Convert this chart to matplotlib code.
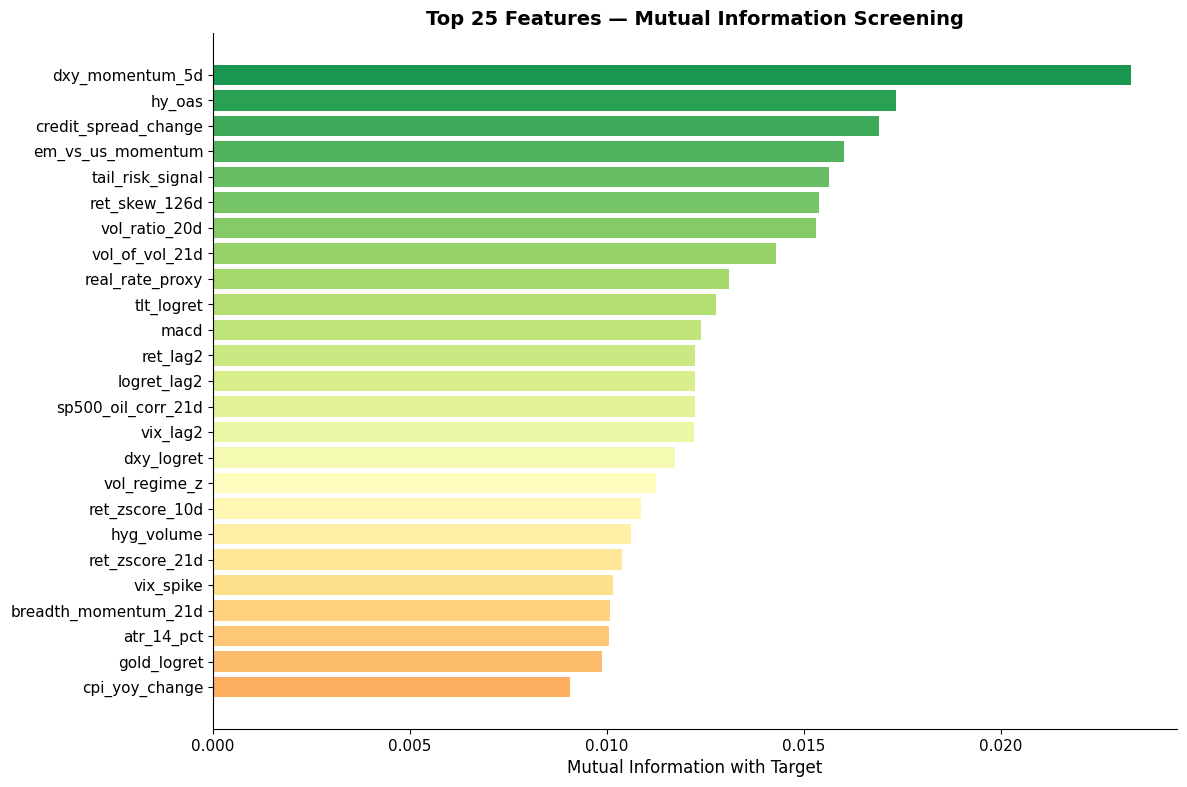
import matplotlib
matplotlib.use("Agg")
import matplotlib.pyplot as plt
import numpy as np

features = [
    "dxy_momentum_5d", "hy_oas", "credit_spread_change", "em_vs_us_momentum",
    "tail_risk_signal", "ret_skew_126d", "vol_ratio_20d", "vol_of_vol_21d",
    "real_rate_proxy", "tlt_logret", "macd", "ret_lag2", "logret_lag2",
    "sp500_oil_corr_21d", "vix_lag2", "dxy_logret", "vol_regime_z",
    "ret_zscore_10d", "hyg_volume", "ret_zscore_21d", "vix_spike",
    "breadth_momentum_21d", "atr_14_pct", "gold_logret", "cpi_yoy_change",
]
mi_values = [
    0.02330, 0.01734, 0.01690, 0.01602, 0.01563, 0.01538, 0.01530, 0.01429,
    0.01310, 0.01277, 0.01239, 0.01223, 0.01223, 0.01224, 0.01220, 0.01173,
    0.01124, 0.01087, 0.01060, 0.01038, 0.01015, 0.01008, 0.01005, 0.00987,
    0.00906,
]

n = len(features)
colors = plt.cm.RdYlGn(np.linspace(0.9, 0.3, n))

fig = plt.figure(figsize=(11.87, 7.87), dpi=100)
ax = fig.add_axes([213/1187, 1-729/787, (1177-213)/1187, (729-33)/787])
ypos = np.arange(n)[::-1]
ax.barh(ypos, mi_values, color=colors, height=0.8)
ax.set_yticks(ypos)
ax.set_yticklabels(features, fontsize=11)
ax.tick_params(axis="x", labelsize=11)
ax.set_xlabel("Mutual Information with Target", fontsize=12)
ax.set_title("Top 25 Features \u2014 Mutual Information Screening", fontsize=14, fontweight="bold")
ax.spines["top"].set_visible(False)
ax.spines["right"].set_visible(False)
fig.savefig("out.png", dpi=100)
